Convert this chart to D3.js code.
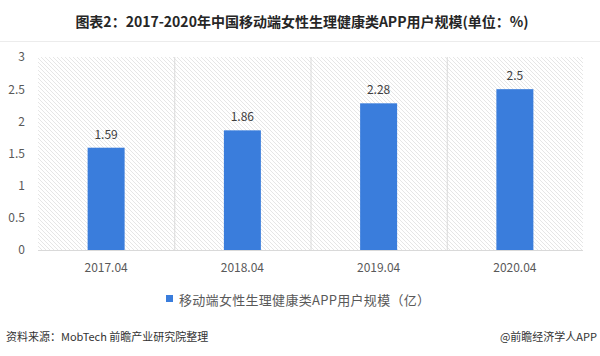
<!DOCTYPE html>
<html><head><meta charset="utf-8">
<script src="https://cdn.jsdelivr.net/npm/d3@7/dist/d3.min.js"></script>
<style>body{margin:0;background:#fff;}svg{display:block;font-family:"Microsoft YaHei","Noto Sans CJK SC",sans-serif;}</style>
</head><body>
<svg id="c" width="600" height="356"></svg>
<script>
const categories = ["2017.04","2018.04","2019.04","2020.04"];
const values = [1.59,1.86,2.28,2.5];
const yTicks = [0,0.5,1,1.5,2,2.5,3];
const seriesName = "移动端女性生理健康类APP用户规模（亿）";
const title = "图表2：2017-2020年中国移动端女性生理健康类APP用户规模(单位：%)";
const source = "资料来源：MobTech 前瞻产业研究院整理";
const brand = "@前瞻经济学人APP";

const svg = d3.select("#c");
const m = {l:38, r:17, t:57, b:106};
const W = 600, H = 356;
const x = d3.scaleBand().domain(categories).range([m.l, W-m.r]).paddingInner(0).paddingOuter(0);
const y = d3.scaleLinear().domain([0,3]).range([H-m.b, m.t]);

const defs = svg.append("defs");
const pat = defs.append("pattern").attr("id","hatch").attr("patternUnits","userSpaceOnUse")
  .attr("width",4).attr("height",4);
pat.append("rect").attr("width",4).attr("height",4).attr("fill","#fff");
pat.append("path").attr("d","M-1,-1 L5,5 M-1,3 L1,5 M3,-1 L5,1").attr("stroke","#e0e0e0").attr("stroke-width",0.8);

// title
svg.append("text").attr("x",302).attr("y",27).attr("text-anchor","middle")
  .attr("font-size",14).attr("font-weight","bold").attr("fill","#262626").text(title);
svg.append("line").attr("x1",0).attr("x2",W).attr("y1",41.5).attr("y2",41.5).attr("stroke","#ececec");

// plot background
svg.append("rect").attr("x",m.l).attr("y",m.t).attr("width",W-m.r-m.l).attr("height",H-m.b-m.t).attr("fill","url(#hatch)");

// dividers
svg.append("g").selectAll("line").data(categories.slice(1)).join("line")
  .attr("x1",d=>x(d)+0.5).attr("x2",d=>x(d)+0.5).attr("y1",m.t).attr("y2",H-m.b)
  .attr("stroke","#dadada");

// baseline
svg.append("line").attr("x1",m.l).attr("x2",W-m.r).attr("y1",y(0)+0.5).attr("y2",y(0)+0.5).attr("stroke","#d9d9d9");

// y axis
const ya = svg.append("g").attr("transform",`translate(${m.l},0)`)
  .call(d3.axisLeft(y).tickValues(yTicks).tickSize(0).tickPadding(13).tickFormat(d3.format("")));
ya.select(".domain").remove();
ya.selectAll("text").attr("font-size",12).attr("fill","#595959").attr("font-family","'Microsoft YaHei','Noto Sans CJK SC',sans-serif");

// x axis
const xa = svg.append("g").attr("transform",`translate(0,${H-m.b})`)
  .call(d3.axisBottom(x).tickSize(0).tickPadding(13));
xa.select(".domain").remove();
xa.selectAll("text").attr("font-size",12).attr("fill","#595959").attr("font-family","'Microsoft YaHei','Noto Sans CJK SC',sans-serif");

// bars
const bw = 37;
svg.append("g").selectAll("rect").data(values).join("rect")
  .attr("x",(d,i)=>x(categories[i])+x.bandwidth()/2-bw/2)
  .attr("y",d=>y(d)).attr("width",bw).attr("height",d=>y(0)-y(d))
  .attr("fill","#3a7ddc");

svg.append("g").selectAll("text").data(values).join("text")
  .attr("x",(d,i)=>x(categories[i])+x.bandwidth()/2)
  .attr("y",d=>y(d)-9).attr("text-anchor","middle")
  .attr("font-size",12).attr("fill","#404040").text(d=>d);

// legend
svg.append("rect").attr("x",166).attr("y",295).attr("width",7).attr("height",7).attr("fill","#3a7ddc");
svg.append("text").attr("x",179).attr("y",305).attr("font-size",13).attr("letter-spacing",0.3).attr("fill","#595959").text(seriesName);

// footer
svg.append("text").attr("x",6).attr("y",341).attr("font-size",11).attr("fill","#333").text(source);
svg.append("text").attr("x",597).attr("y",341).attr("text-anchor","end").attr("font-size",11).attr("fill","#333").text(brand);
</script>
</body></html>
